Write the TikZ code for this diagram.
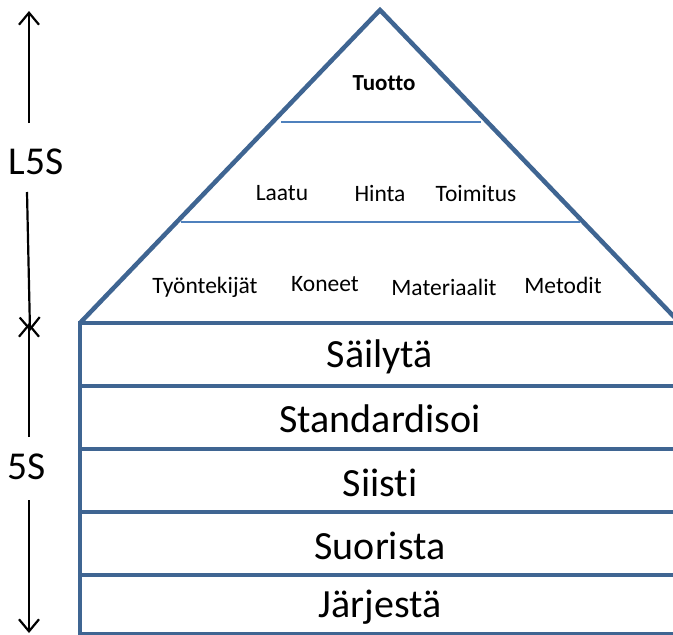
\documentclass[tikz,border=0pt]{standalone}
\usepackage{fontspec}
\setmainfont{Carlito}[Ligatures={NoCommon}]
\usetikzlibrary{arrows.meta}
\definecolor{outerblue}{HTML}{3F6592}
\definecolor{innerblue}{HTML}{4F81BD}
\tikzset{
  outerline/.style={draw=outerblue, line width=4.5pt, line join=miter},
  innerline/.style={draw=innerblue, line width=2pt},
  smalltxt/.style={font=\fontsize{23.5}{26}\selectfont, inner sep=0pt},
  bigtxt/.style={font=\fontsize{40}{46}\selectfont, inner sep=0pt},
  sidetxt/.style={font=\fontsize{39.5}{44}\selectfont, inner sep=0pt},
  dimarrow/.style={draw=black, line width=2.2pt, -{Straight Barb[length=12pt,width=20pt,line width=2.2pt]}}
}
\begin{document}
\begin{tikzpicture}[x=1pt,y=-1pt]
\useasboundingbox (0,0) rectangle (673,635);
\clip (0,0) rectangle (673,635);
% pyramid
\coordinate (apex) at (380,10);
\coordinate (bl) at (80,323);
\coordinate (br) at (680,323);
\draw[outerline] (bl) -- (apex) -- (br);
\coordinate (l1a) at (281,122);
\coordinate (l1b) at (481,122);
\coordinate (l2a) at (181,222);
\coordinate (l2b) at (580,222);
\draw[innerline] (l1a) -- (l1b);
\draw[innerline] (l2a) -- (l2b);
% rectangle bands
\draw[outerline] (680,323) -- (80,323) -- (80,634) -- (680,634);
\coordinate (r1a) at (80,386); \coordinate (r1b) at (680,386);
\coordinate (r2a) at (80,449); \coordinate (r2b) at (680,449);
\coordinate (r3a) at (80,512); \coordinate (r3b) at (680,512);
\coordinate (r4a) at (80,575); \coordinate (r4b) at (680,575);
\draw[outerline] (r1a) -- (r1b);
\draw[outerline] (r2a) -- (r2b);
\draw[outerline] (r3a) -- (r3b);
\draw[outerline] (r4a) -- (r4b);
% pyramid texts
\node[smalltxt, font=\fontsize{23}{26}\selectfont\bfseries] (tuotto) at (384,83) {Tuotto};
\node[smalltxt] (laatu) at (282,193) {Laatu};
\node[smalltxt] (hinta) at (380,193) {Hinta};
\node[smalltxt] (toimitus) at (476,193) {Toimitus};
\node[smalltxt] (tyontekijat) at (205,287) {Työntekijät};
\node[smalltxt] (koneet) at (325,284) {Koneet};
\node[smalltxt] (materiaalit) at (444,287) {Materiaalit};
\node[smalltxt] (metodit) at (563,285) {Metodit};
% band texts
\node[bigtxt] (sailyta) at (380,357) {Säilytä};
\node[bigtxt] (standardisoi) at (380,419) {Standardisoi};
\node[bigtxt] (siisti) at (380,483) {Siisti};
\node[bigtxt] (suorista) at (380,546) {Suorista};
\node[bigtxt] (jarjesta) at (380,607) {Järjestä};
% side labels and arrows
\node[sidetxt] (l5s) at (36,162) {L5S};
\node[sidetxt] (fives) at (27,467) {5S};
\coordinate (l5top) at (29,11);
\coordinate (l5bot) at (30,331);
\coordinate (s5top) at (29,323);
\coordinate (s5bot) at (29,633);
\draw[dimarrow] (29,123) -- (l5top);
\draw[dimarrow] (27,192) -- (l5bot);
\draw[dimarrow] (29,437) -- (s5top);
\draw[dimarrow] (29,500) -- (s5bot);
\end{tikzpicture}
\end{document}
